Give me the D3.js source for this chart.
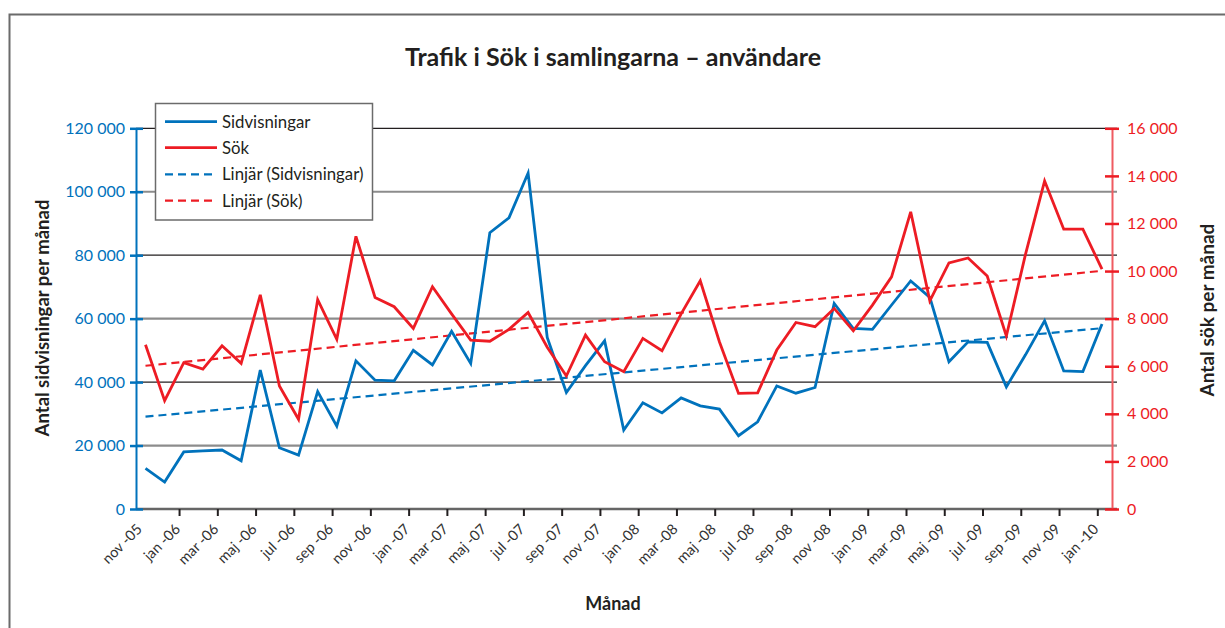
<!DOCTYPE html>
<html><head><meta charset="utf-8">
<script src="https://cdn.jsdelivr.net/npm/d3@7"></script>
<style>body{margin:0;background:#fff}svg{display:block}text{font-family:Lato,"Open Sans",sans-serif}</style>
</head><body>
<svg id="c" width="1225" height="628"></svg>
<script>
const months = ["nov -05","dec -05","jan -06","feb -06","mar -06","apr -06","maj -06","jun -06","jul -06","aug -06","sep -06","okt -06",
"nov -06","dec -06","jan -07","feb -07","mar -07","apr -07","maj -07","jun -07","jul -07","aug -07","sep -07","okt -07",
"nov -07","dec -07","jan -08","feb -08","mar -08","apr -08","maj -08","jun -08","jul -08","aug -08","sep -08","okt -08",
"nov -08","dec -08","jan -09","feb -09","mar -09","apr -09","maj -09","jun -09","jul -09","aug -09","sep -09","okt -09",
"nov -09","dec -09","jan -10"];
const sidvisningar = [12800,8500,18000,18300,18600,15200,43800,19300,17000,37000,26100,46700,
40600,40400,50000,45400,56000,45900,87100,91800,105900,54100,36700,45200,
53000,24900,33500,30300,35000,32500,31500,23100,27500,38800,36500,38300,
64800,56900,56600,64300,71900,66700,46400,52700,52500,38500,48600,59300,
43500,43300,58300];
const sok = [6900,4550,6150,5880,6860,6120,9000,5170,3770,8800,7130,11460,
8890,8500,7590,9340,8200,7100,7050,7550,8260,6800,5590,7310,
6190,5770,7170,6650,8200,9590,7030,4860,4880,6680,7840,7660,
8430,7490,8570,9760,12490,8750,10340,10550,9790,7270,10700,13790,
11760,11760,10080];
const trendSidvisningar = [29100, 57000];   // linear trend, first & last month
const trendSok = [6020, 10010];
const leftTicks = [0,20000,40000,60000,80000,100000,120000];
const rightTicks = [0,2000,4000,6000,8000,10000,12000,14000,16000];
const title = "Trafik i Sök i samlingarna – användare";
const legendNames = ["Sidvisningar","Sök","Linjär (Sidvisningar)","Linjär (Sök)"];

const svg = d3.select("#c");
const blue = "#0072bc", red = "#ed1c24", dark = "#231f20";
const x = d3.scalePoint().domain(months).range([145.5, 1102]);
const yL = d3.scaleLinear().domain([0, 120000]).range([509, 128.3]);
const yR = d3.scaleLinear().domain([0, 16000]).range([509, 128.3]);
const fmt = d => d3.format(",")(d).replace(/,/g, " ");

// frame
svg.append("rect").attr("x", 9.5).attr("y", 14.5).attr("width", 1240).attr("height", 640)
  .attr("fill", "none").attr("stroke", "#6b6b6b").attr("stroke-width", 2);

// gridlines
svg.append("g").selectAll("line").data(leftTicks.filter(d => d > 0)).join("line")
  .attr("x1", 136).attr("x2", 1117).attr("y1", d => yL(d)).attr("y2", d => yL(d))
  .attr("stroke", d => (d / 20000) % 2 === 0 ? dark : "#8c8c8c")
  .attr("stroke-width", d => (d / 20000) % 2 === 0 ? 1.3 : 2.2);
svg.append("line").attr("x1", 136).attr("x2", 1117).attr("y1", yL(0)).attr("y2", yL(0))
  .attr("stroke", "#666").attr("stroke-width", 2.5);

// x axis ticks
const xt = svg.append("g").attr("transform", `translate(0,${yL(0)})`)
  .call(d3.axisBottom(x).tickValues(months.filter((d, i) => i % 2 === 0 && i > 0)).tickSize(7).tickSizeOuter(0).tickFormat(""));
xt.select(".domain").remove();
xt.selectAll(".tick line").attr("transform", "translate(-4.7,0)").attr("stroke", dark).attr("stroke-width", 2);

// x labels
svg.append("g").selectAll("text").data(months.filter((d, i) => i % 2 === 0)).join("text")
  .attr("transform", d => `translate(${x(d) - 2.5},530) rotate(-45)`)
  .attr("text-anchor", "end").attr("font-size", 14.5).attr("fill", "#333").text(d => d);

// left axis
const la = svg.append("g").attr("transform", "translate(136,0)")
  .call(d3.axisLeft(yL).tickValues(leftTicks).tickSize(6).tickSizeOuter(0).tickFormat(fmt));
la.select(".domain").attr("stroke", blue).attr("stroke-width", 2);
la.selectAll(".tick line").attr("x2", 7).attr("x1", -6).attr("stroke", blue).attr("stroke-width", 2.5);
la.selectAll(".tick text").attr("x", -11).attr("fill", blue).attr("font-size", 16).attr("font-family", "Lato");

// right axis
const ra = svg.append("g").attr("transform", "translate(1112,0)")
  .call(d3.axisRight(yR).tickValues(rightTicks).tickSize(6).tickSizeOuter(0).tickFormat(fmt));
ra.select(".domain").attr("stroke", "#ef5b61").attr("stroke-width", 2);
ra.selectAll(".tick line").attr("x1", -7).attr("x2", 7).attr("stroke", red).attr("stroke-width", 2.5);
ra.selectAll(".tick text").attr("x", 15).attr("fill", red).attr("font-size", 16).attr("font-family", "Lato");

// trend lines
const tl = d3.line().x(d => d[0]).y(d => d[1]);
svg.append("path").attr("d", tl([[x(months[0]), yL(trendSidvisningar[0])], [x(months[months.length - 1]), yL(trendSidvisningar[1])]]))
  .attr("fill", "none").attr("stroke", blue).attr("stroke-width", 2.2).attr("stroke-dasharray", "8,5");
svg.append("path").attr("d", tl([[x(months[0]), yR(trendSok[0])], [x(months[months.length - 1]), yR(trendSok[1])]]))
  .attr("fill", "none").attr("stroke", red).attr("stroke-width", 2.2).attr("stroke-dasharray", "8,5");

// data lines
svg.append("path").datum(sidvisningar)
  .attr("d", d3.line().x((d, i) => x(months[i])).y(d => yL(d)))
  .attr("fill", "none").attr("stroke", blue).attr("stroke-width", 2.8).attr("stroke-linejoin", "miter");
svg.append("path").datum(sok)
  .attr("d", d3.line().x((d, i) => x(months[i])).y(d => yR(d)))
  .attr("fill", "none").attr("stroke", red).attr("stroke-width", 2.8).attr("stroke-linejoin", "miter");

// legend
const lg = svg.append("g");
lg.append("rect").attr("x", 155.5).attr("y", 103.5).attr("width", 217).attr("height", 116.5)
  .attr("fill", "#fff").attr("stroke", "#6b6b6b").attr("stroke-width", 1.5);
const legendY = [121.7, 147.7, 174.3, 200.7];
const legendCol = [blue, red, blue, red];
const legendDash = [null, null, "8,5", "8,5"];
legendNames.forEach((n, i) => {
  lg.append("line").attr("x1", 165).attr("x2", 217).attr("y1", legendY[i]).attr("y2", legendY[i])
    .attr("stroke", legendCol[i]).attr("stroke-width", i < 2 ? 2.8 : 2.2).attr("stroke-dasharray", legendDash[i]);
  lg.append("text").attr("x", 222).attr("y", legendY[i]).attr("dy", "0.35em").attr("font-size", 16.8)
    .attr("fill", dark).text(n);
});

// titles
svg.append("text").attr("x", 613).attr("y", 66).attr("text-anchor", "middle").attr("font-size", 25)
  .attr("font-weight", "bold").attr("fill", dark).text(title);
svg.append("text").attr("x", 613).attr("y", 610).attr("text-anchor", "middle").attr("font-size", 18)
  .attr("font-weight", "bold").attr("fill", dark).text("Månad");
svg.append("text").attr("transform", "translate(49,318) rotate(-90)").attr("text-anchor", "middle").attr("font-size", 18.5)
  .attr("font-weight", "bold").attr("fill", dark).text("Antal sidvisningar per månad");
svg.append("text").attr("transform", "translate(1214,310) rotate(-90)").attr("text-anchor", "middle").attr("font-size", 19)
  .attr("font-weight", "bold").attr("fill", dark).text("Antal sök per månad");
</script>
</body></html>
